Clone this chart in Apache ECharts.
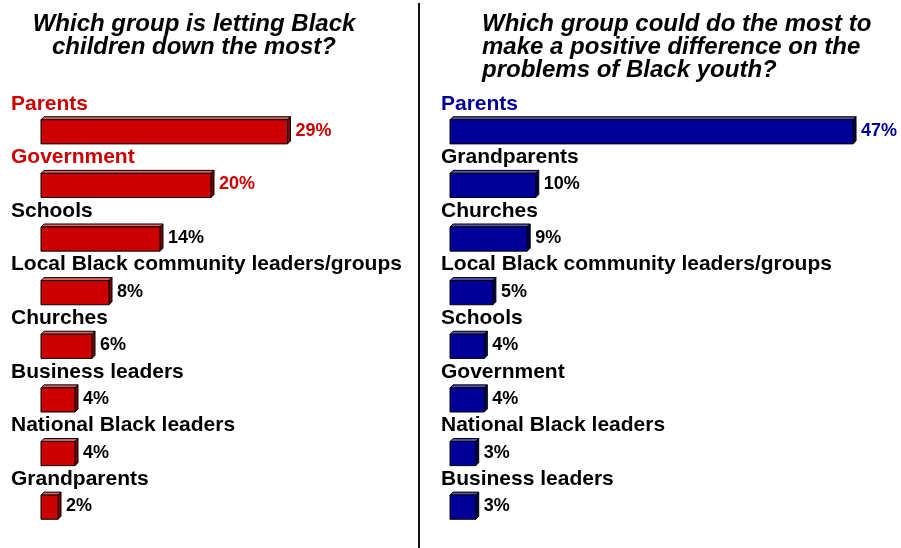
<!DOCTYPE html>
<html>
<head>
<meta charset="utf-8">
<script src="https://cdn.jsdelivr.net/npm/echarts@6/dist/echarts.min.js"></script>
<style>html,body{margin:0;padding:0;background:#fff}#c{width:901px;height:548px}</style>
</head>
<body>
<div id="c"></div>
<script>
var leftTitle = "Which group is letting Black\nchildren down the most?";
var rightTitle = "Which group could do the most to\nmake a positive difference on the\nproblems of Black youth?";
var leftCats = ["Parents","Government","Schools","Local Black community leaders/groups","Churches","Business leaders","National Black leaders","Grandparents"];
var leftVals = [29,20,14,8,6,4,4,2];
var leftHighlight = [true,true,false,false,false,false,false,false];
var rightCats = ["Parents","Grandparents","Churches","Local Black community leaders/groups","Schools","Government","National Black leaders","Business leaders"];
var rightVals = [47,10,9,5,4,4,3,3];
var rightHighlight = [true,false,false,false,false,false,false,false];

var FONT = "'Liberation Sans', Arial, sans-serif";

function makeRender(cats, highlight, front, top, side, labelDx) {
  return function (params, api) {
    var idx = params.dataIndex;
    var v = api.value(0);
    var start = api.coord([0, api.value(1)]);
    var end = api.coord([v, api.value(1)]);
    var band = api.size([0, 1])[1];
    var h = band * 0.45;
    var d = 3;
    var x0 = start[0], x1 = end[0], yc = start[1] + 1;
    var y0 = yc - h / 2, y1 = yc + h / 2;
    var hl = highlight[idx];
    var txtColor = hl ? front : '#000';
    var ls = {stroke: '#000', lineWidth: 1};
    return {
      type: 'group',
      children: [
        {type: 'polygon', shape: {points: [[x0, y0], [x0 + d, y0 - d], [x1 + d, y0 - d], [x1, y0]]},
          style: Object.assign({fill: top}, ls)},
        {type: 'polygon', shape: {points: [[x1, y0], [x1 + d, y0 - d], [x1 + d, y1 - d], [x1, y1]]},
          style: Object.assign({fill: side}, ls)},
        {type: 'rect', shape: {x: x0, y: y0, width: x1 - x0, height: h},
          style: Object.assign({fill: front}, ls)},
        {type: 'text', x: x0 + labelDx, y: yc - 28,
          style: {text: cats[idx], fill: txtColor, font: 'bold 21px ' + FONT, textVerticalAlign: 'middle', textAlign: 'left'}},
        {type: 'text', x: x1 + d + 5, y: yc - 1,
          style: {text: v + '%', fill: txtColor, font: 'bold 18px ' + FONT, textVerticalAlign: 'middle', textAlign: 'left'}}
      ]
    };
  };
}

var chart = echarts.init(document.getElementById('c'));
chart.setOption({
  animation: false,
  backgroundColor: '#fff',
  title: [
    {text: leftTitle, left: 194, top: 13, padding: 0, textAlign: 'center',
      textStyle: {fontFamily: FONT, fontSize: 24, fontWeight: 'bold', fontStyle: 'italic', color: '#000', lineHeight: 23, align: 'center'}},
    {text: rightTitle, left: 482, top: 13, padding: 0,
      textStyle: {fontFamily: FONT, fontSize: 24, fontWeight: 'bold', fontStyle: 'italic', color: '#000', lineHeight: 23}}
  ],
  graphic: [
    {type: 'line', shape: {x1: 419, y1: 3, x2: 419, y2: 548}, style: {stroke: '#111', lineWidth: 2}}
  ],
  grid: [
    {left: 41, top: 104, width: 340, height: 429},
    {left: 450, top: 104, width: 343, height: 429}
  ],
  xAxis: [
    {gridIndex: 0, type: 'value', min: 0, max: 40, show: false},
    {gridIndex: 1, type: 'value', min: 0, max: 40, show: false}
  ],
  yAxis: [
    {gridIndex: 0, type: 'category', data: leftCats, inverse: true, show: false},
    {gridIndex: 1, type: 'category', data: rightCats, inverse: true, show: false}
  ],
  series: [
    {type: 'custom', xAxisIndex: 0, yAxisIndex: 0,
      renderItem: makeRender(leftCats, leftHighlight, '#CC0000', '#E06060', '#800000', -30),
      data: leftVals.map(function (v, i) { return [v, i]; })},
    {type: 'custom', xAxisIndex: 1, yAxisIndex: 1,
      renderItem: makeRender(rightCats, rightHighlight, '#000099', '#5050B0', '#000050', -9),
      data: rightVals.map(function (v, i) { return [v, i]; })}
  ]
});
</script>
</body>
</html>
